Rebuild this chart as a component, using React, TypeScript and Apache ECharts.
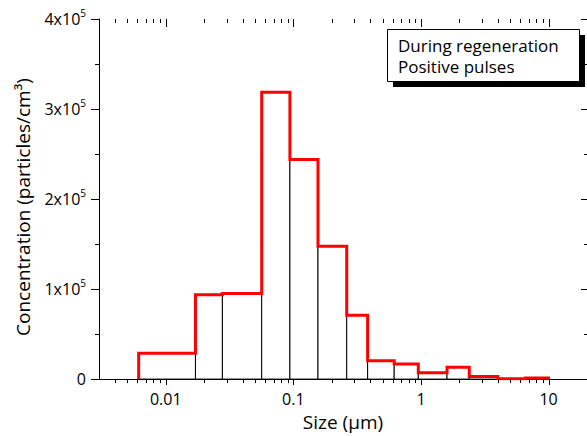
import React, { useEffect, useRef } from "react";
import * as echarts from "echarts";

// Bin edges (µm) and concentrations (particles/cm³)
const binEdges = [0.00614, 0.0171, 0.0278, 0.0565, 0.094, 0.156, 0.262, 0.382, 0.617, 0.953, 1.6, 2.39, 4.0, 6.6, 10];
const concentrations = [28700, 93700, 95100, 318500, 243900, 147700, 70900, 20400, 16900, 7000, 13200, 3000, 300, 1200];
const xMajorTicks = [0.01, 0.1, 1, 10];
const xTickLabels = ["0.01", "0.1", "1", "10"];
const legendLines = ["During regeneration", "Positive pulses"];

const FONT = "Open Sans";
const X_MIN = 0.003;
const X_MAX = 20;
const Y_MAX = 400000;

export default function App() {
  const ref = useRef<HTMLDivElement>(null);
  useEffect(() => {
    document.body.style.margin = "0";
    const chart = echarts.init(ref.current!, null, { renderer: "svg" });

    const bars = concentrations.map((v, i) => [binEdges[i], binEdges[i + 1], v]);
    const step: number[][] = [[binEdges[0], 0]];
    concentrations.forEach((v, i) => {
      step.push([binEdges[i], v]);
      step.push([binEdges[i + 1], v]);
    });
    step.push([binEdges[binEdges.length - 1], 0]);

    const ticks: number[][] = [];
    [0.001, 0.01, 0.1, 1, 10].forEach((d) => {
      for (let k = 1; k <= 9; k++) {
        const v = +(k * d).toPrecision(3);
        if (v > X_MIN * 1.0001 && v < X_MAX * 0.9999) ticks.push([v, k === 1 ? 1 : 0]);
      }
    });

    const labelMap: Record<string, string> = {};
    xMajorTicks.forEach((t, i) => (labelMap[String(t)] = xTickLabels[i]));

    chart.setOption({
      animation: false,
      grid: { left: 99, top: 19, width: 489.5, height: 362, containLabel: false },
      xAxis: [
        {
          type: "log",
          logBase: 10,
          min: X_MIN,
          max: X_MAX,
          position: "bottom",
          axisLine: { show: true, lineStyle: { color: "#000", width: 1 } },
          axisTick: { show: false },
          splitLine: { show: false },
          axisLabel: {
            showMinLabel: false,
            showMaxLabel: false,
            margin: 12,
            color: "#000",
            fontSize: 16,
            fontFamily: FONT,
            formatter: (v: number) => labelMap[String(+v.toPrecision(3))] ?? "",
          },
          name: "Size (µm)",
          nameLocation: "middle",
          nameGap: 29,
          nameTextStyle: { color: "#000", fontSize: 19, fontFamily: FONT },
        },
        {
          type: "log",
          logBase: 10,
          min: X_MIN,
          max: X_MAX,
          position: "top",
          axisLine: { show: true, lineStyle: { color: "#000", width: 1 } },
          axisTick: { show: false },
          axisLabel: { show: false },
          splitLine: { show: false },
        },
      ],
      yAxis: [
        {
          type: "value",
          min: 0,
          max: Y_MAX,
          interval: 100000,
          position: "left",
          axisLine: { show: true, lineStyle: { color: "#000", width: 1 } },
          axisTick: { show: true, inside: false, length: 8, lineStyle: { color: "#000" } },
          minorTick: { show: true, splitNumber: 2, length: 4, lineStyle: { color: "#000" } },
          splitLine: { show: false },
          axisLabel: {
            margin: 13,
            color: "#000",
            fontFamily: FONT,
            formatter: (v: number) => (v === 0 ? "{m|0}" : `{m|${v / 100000}x10}{s|5}`),
            rich: {
              m: { fontSize: 16, fontFamily: FONT, color: "#000", lineHeight: 22 },
              s: { fontSize: 10, fontFamily: FONT, color: "#000", verticalAlign: "top" },
            },
          },
          name: "Concentration (particles/cm³)",
          nameLocation: "middle",
          nameGap: 67,
          nameTextStyle: { color: "#000", fontSize: 19, fontFamily: FONT, padding: [0, 16, 0, 0] },
        },
        {
          type: "value",
          min: 0,
          max: Y_MAX,
          interval: 100000,
          position: "right",
          axisLine: { show: true, lineStyle: { color: "#000", width: 1 } },
          axisTick: { show: true, inside: true, length: 6, lineStyle: { color: "#000" } },
          minorTick: { show: true, splitNumber: 2, length: 3, lineStyle: { color: "#000" } },
          axisLabel: { show: false },
          splitLine: { show: false },
        },
      ],
      series: [
        {
          type: "custom",
          xAxisIndex: 0,
          yAxisIndex: 0,
          data: bars,
          encode: { x: [0, 1], y: 2 },
          z: 2,
          renderItem: (params: any, api: any) => {
            const p0 = api.coord([api.value(0), 0]);
            const p1 = api.coord([api.value(1), api.value(2)]);
            return {
              type: "rect",
              shape: { x: p0[0], y: p1[1], width: p1[0] - p0[0], height: p0[1] - p1[1] },
              style: { fill: "#fff", stroke: "#000", lineWidth: 1 },
            };
          },
        },
        {
          type: "line",
          xAxisIndex: 0,
          yAxisIndex: 0,
          data: step,
          showSymbol: false,
          symbol: "none",
          z: 5,
          lineStyle: { color: "#ff0000", width: 3, join: "miter" },
        },
        {
          type: "custom",
          xAxisIndex: 0,
          yAxisIndex: 0,
          data: ticks,
          encode: { x: 0, y: 1 },
          clip: false,
          z: 6,
          renderItem: (params: any, api: any) => {
            const v = api.value(0);
            const major = api.value(1) === 1;
            const pb = api.coord([v, 0]);
            const pt = api.coord([v, Y_MAX]);
            const x = Math.round(pb[0]) + 0.5;
            return {
              type: "group",
              children: [
                {
                  type: "line",
                  shape: { x1: x, y1: pb[1], x2: x, y2: pb[1] + (major ? 6 : 4) },
                  style: { stroke: "#000", lineWidth: 1 },
                },
                {
                  type: "line",
                  shape: { x1: x, y1: pt[1], x2: x, y2: pt[1] + (major ? 8 : 4) },
                  style: { stroke: "#000", lineWidth: 1 },
                },
              ],
            };
          },
        },
      ],
      graphic: [
        { type: "rect", shape: { x: 393, y: 35, width: 192, height: 52 }, style: { fill: "#000" }, z: 100 },
        { type: "rect", shape: { x: 387.5, y: 29.5, width: 192, height: 52 }, style: { fill: "#fff", stroke: "#000", lineWidth: 1 }, z: 101 },
        {
          type: "text",
          x: 398,
          y: 45,
          z: 102,
          style: { text: legendLines[0], fill: "#000", fontSize: 17, fontFamily: FONT, verticalAlign: "middle" },
        },
        {
          type: "text",
          x: 398,
          y: 66.5,
          z: 102,
          style: { text: legendLines[1], fill: "#000", fontSize: 17, fontFamily: FONT, verticalAlign: "middle" },
        },
      ],
    });
    return () => chart.dispose();
  }, []);
  return <div ref={ref} style={{ width: 587, height: 436 }} />;
}
